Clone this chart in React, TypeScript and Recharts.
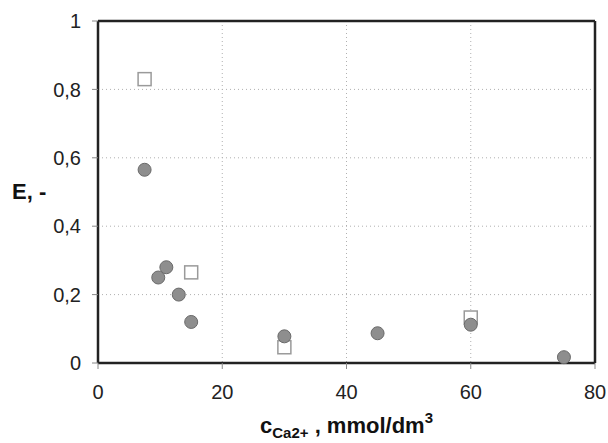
import { ScatterChart, Scatter, XAxis, YAxis, CartesianGrid, ReferenceLine } from 'recharts';

const FONT = '"Liberation Sans", Arial, Helvetica, sans-serif';

// concentration c(Ca2+) in mmol/dm3
const circleX = [7.5, 9.7, 11, 13, 15, 30, 45, 60, 75];
const circleE = [0.565, 0.25, 0.28, 0.2, 0.12, 0.078, 0.087, 0.112, 0.017];

const squareX = [7.5, 15, 30, 60];
const squareE = [0.83, 0.265, 0.046, 0.133];

const xTicks = [0, 20, 40, 60, 80];
const yTicks = [0, 0.2, 0.4, 0.6, 0.8, 1];

const circles = circleX.map((x, i) => ({ x, y: circleE[i] }));
const squares = squareX.map((x, i) => ({ x, y: squareE[i] }));

const fmt = (v: number) => String(v).replace('.', ',');

const CircleDot = (props: any) => {
  const { cx, cy } = props;
  if (cx == null || cy == null) return null;
  return <circle cx={cx} cy={cy} r={6.5} fill="#8e8e8e" stroke="#6a6a6a" strokeWidth={1} />;
};

const SquareDot = (props: any) => {
  const { cx, cy } = props;
  if (cx == null || cy == null) return null;
  return <rect x={cx - 6.5} y={cy - 6.5} width={13} height={13} fill="#fff" stroke="#9a9a9a" strokeWidth={1.5} />;
};

const XTitle = (props: any) => {
  const vb = props.viewBox || { x: 98, width: 497 };
  const cx = vb.x + vb.width / 2;
  return (
    <text x={cx} y={433} textAnchor="middle" fontFamily={FONT} fontWeight="bold" fontSize={22} fill="#111">
      <tspan>c</tspan>
      <tspan fontSize={15} dy={5}>Ca2+</tspan>
      <tspan dy={-5}> , mmol/dm</tspan>
      <tspan fontSize={15} dy={-10}>3</tspan>
    </text>
  );
};

export default function App() {
  return (
    <div style={{ position: 'absolute', left: 0, top: 0, background: '#fff' }}>
      <ScatterChart width={608} height={443} margin={{ top: 21, right: 13, bottom: 0, left: 0 }}>
        <CartesianGrid stroke="#b0b0b0" strokeDasharray="1 3" horizontal vertical />
        <XAxis
          type="number"
          dataKey="x"
          domain={[0, 80]}
          ticks={xTicks}
          height={80}
          axisLine={{ stroke: '#222', strokeWidth: 2.5 }}
          tickLine={{ stroke: '#888' }}
          tickSize={6}
          tickMargin={16}
          tick={{ fill: '#222', fontSize: 20, fontFamily: FONT }}
          label={{ content: XTitle }}
        />
        <YAxis
          type="number"
          dataKey="y"
          domain={[0, 1]}
          ticks={yTicks}
          width={98}
          axisLine={{ stroke: '#222', strokeWidth: 2.5 }}
          tickLine={{ stroke: '#888' }}
          tickSize={6}
          tickMargin={11}
          tickFormatter={fmt}
          tick={{ fill: '#222', fontSize: 20, fontFamily: FONT }}
        />
        <ReferenceLine y={1} stroke="#222" strokeWidth={2.5} />
        <ReferenceLine x={80} stroke="#222" strokeWidth={2.5} />
        <Scatter data={squares} shape={SquareDot} isAnimationActive={false} />
        <Scatter data={circles} shape={CircleDot} isAnimationActive={false} />
        <text x={12} y={199} fontFamily={FONT} fontWeight="bold" fontSize={22} fill="#111">
          E, -
        </text>
      </ScatterChart>
    </div>
  );
}
